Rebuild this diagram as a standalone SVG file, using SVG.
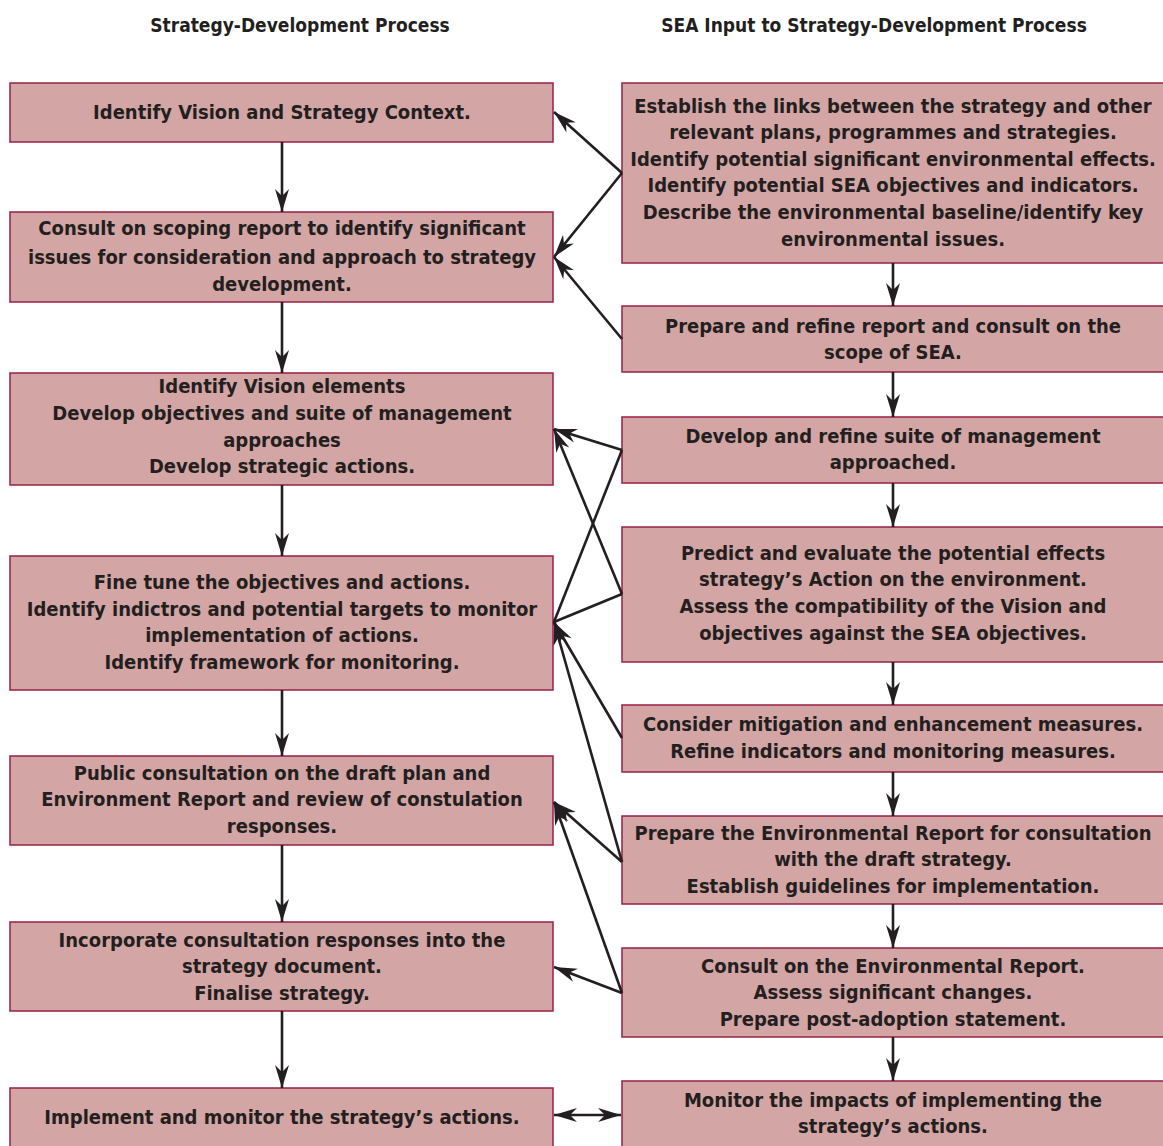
<svg xmlns="http://www.w3.org/2000/svg" width="1163" height="1146" viewBox="0 0 1163 1146">
<style>
.box{fill:#d3a5a4;stroke:#9b1f45;stroke-width:1.5}
text{font-family:"DejaVu Sans Condensed","DejaVu Sans",sans-serif;font-stretch:condensed;font-weight:bold;font-size:20px;fill:#231f20;text-anchor:middle}
.hdr{font-size:19px}
.c{stroke:#231f20;stroke-width:2.6;fill:none}
</style>
<defs>
<marker id="ah" markerUnits="userSpaceOnUse" orient="auto-start-reverse" markerWidth="30" markerHeight="30" refX="0" refY="0" overflow="visible">
<path d="M0,0 L-23,-7 L-16,0 L-23,7 Z" fill="#231f20"/>
</marker>
</defs>
<g id="headers">
<text class="hdr" x="300" y="32">Strategy-Development Process</text>
<text class="hdr" x="874" y="32">SEA Input to Strategy-Development Process</text>
</g>
<g id="L1"><rect class="box" x="10" y="83" width="543" height="59"/>
<text x="282" y="119">Identify Vision and Strategy Context.</text></g>
<g id="L2"><rect class="box" x="10" y="212" width="543" height="90"/>
<text x="282" y="235">Consult on scoping report to identify significant</text>
<text x="282" y="264">issues for consideration and approach to strategy</text>
<text x="282" y="291">development.</text></g>
<g id="L3"><rect class="box" x="10" y="373" width="543" height="112"/>
<text x="282" y="393">Identify Vision elements</text>
<text x="282" y="420">Develop objectives and suite of management</text>
<text x="282" y="447">approaches</text>
<text x="282" y="473">Develop strategic actions.</text></g>
<g id="L4"><rect class="box" x="10" y="556" width="543" height="134"/>
<text x="282" y="589">Fine tune the objectives and actions.</text>
<text x="282" y="616">Identify indictros and potential targets to monitor</text>
<text x="282" y="642">implementation of actions.</text>
<text x="282" y="669">Identify framework for monitoring.</text></g>
<g id="L5"><rect class="box" x="10" y="756" width="543" height="89"/>
<text x="282" y="780">Public consultation on the draft plan and</text>
<text x="282" y="806">Environment Report and review of constulation</text>
<text x="282" y="833">responses.</text></g>
<g id="L6"><rect class="box" x="10" y="922" width="543" height="89"/>
<text x="282" y="947">Incorporate consultation responses into the</text>
<text x="282" y="973">strategy document.</text>
<text x="282" y="1000">Finalise strategy.</text></g>
<g id="L7"><rect class="box" x="10" y="1088" width="543" height="70"/>
<text x="282" y="1124">Implement and monitor the strategy’s actions.</text></g>
<g id="R1"><rect class="box" x="622" y="83" width="545" height="180"/>
<text x="893" y="113">Establish the links between the strategy and other</text>
<text x="893" y="139">relevant plans, programmes and strategies.</text>
<text x="893" y="166">Identify potential significant environmental effects.</text>
<text x="893" y="192">Identify potential SEA objectives and indicators.</text>
<text x="893" y="219">Describe the environmental baseline/identify key</text>
<text x="893" y="246">environmental issues.</text></g>
<g id="R2"><rect class="box" x="622" y="306" width="545" height="66"/>
<text x="893" y="333">Prepare and refine report and consult on the</text>
<text x="893" y="359">scope of SEA.</text></g>
<g id="R3"><rect class="box" x="622" y="417" width="545" height="66"/>
<text x="893" y="443">Develop and refine suite of management</text>
<text x="893" y="469">approached.</text></g>
<g id="R4"><rect class="box" x="622" y="527" width="545" height="135"/>
<text x="893" y="560">Predict and evaluate the potential effects</text>
<text x="893" y="586">strategy’s Action on the environment.</text>
<text x="893" y="613">Assess the compatibility of the Vision and</text>
<text x="893" y="640">objectives against the SEA objectives.</text></g>
<g id="R5"><rect class="box" x="622" y="705" width="545" height="67"/>
<text x="893" y="731">Consider mitigation and enhancement measures.</text>
<text x="893" y="758">Refine indicators and monitoring measures.</text></g>
<g id="R6"><rect class="box" x="622" y="816" width="545" height="88"/>
<text x="893" y="840">Prepare the Environmental Report for consultation</text>
<text x="893" y="866">with the draft strategy.</text>
<text x="893" y="893">Establish guidelines for implementation.</text></g>
<g id="R7"><rect class="box" x="622" y="948" width="545" height="89"/>
<text x="893" y="973">Consult on the Environmental Report.</text>
<text x="893" y="999">Assess significant changes.</text>
<text x="893" y="1026">Prepare post-adoption statement.</text></g>
<g id="R8"><rect class="box" x="622" y="1081" width="545" height="80"/>
<text x="893" y="1107">Monitor the impacts of implementing the</text>
<text x="893" y="1133">strategy’s actions.</text></g>
<g id="connectors">
<path class="c" marker-end="url(#ah)" d="M282,142 V212"/>
<path class="c" marker-end="url(#ah)" d="M282,302 V373"/>
<path class="c" marker-end="url(#ah)" d="M282,485 V556"/>
<path class="c" marker-end="url(#ah)" d="M282,690 V756"/>
<path class="c" marker-end="url(#ah)" d="M282,845 V922"/>
<path class="c" marker-end="url(#ah)" d="M282,1011 V1088"/>
<path class="c" marker-end="url(#ah)" d="M893,263 V306"/>
<path class="c" marker-end="url(#ah)" d="M893,372 V417"/>
<path class="c" marker-end="url(#ah)" d="M893,483 V527"/>
<path class="c" marker-end="url(#ah)" d="M893,662 V705"/>
<path class="c" marker-end="url(#ah)" d="M893,772 V816"/>
<path class="c" marker-end="url(#ah)" d="M893,904 V948"/>
<path class="c" marker-end="url(#ah)" d="M893,1037 V1081"/>
<path class="c" marker-end="url(#ah)" d="M622,173 L554,112"/>
<path class="c" marker-end="url(#ah)" d="M622,173 L554,257"/>
<path class="c" marker-end="url(#ah)" d="M622,339 L554,257"/>
<path class="c" marker-end="url(#ah)" d="M622,450 L554,429"/>
<path class="c" marker-end="url(#ah)" d="M622,594 L554,429"/>
<path class="c" d="M622,450 L554,622"/>
<path class="c" d="M622,594 L554,622"/>
<path class="c" marker-end="url(#ah)" d="M622,738 L554,622"/>
<path class="c" marker-end="url(#ah)" d="M622,862 L554,622"/>
<path class="c" marker-end="url(#ah)" d="M622,862 L554,802"/>
<path class="c" marker-end="url(#ah)" d="M622,993 L554,802"/>
<path class="c" marker-end="url(#ah)" d="M622,993 L554,967"/>
<path class="c" marker-start="url(#ah)" marker-end="url(#ah)" d="M554,1115 H621"/>
</g>
</svg>
